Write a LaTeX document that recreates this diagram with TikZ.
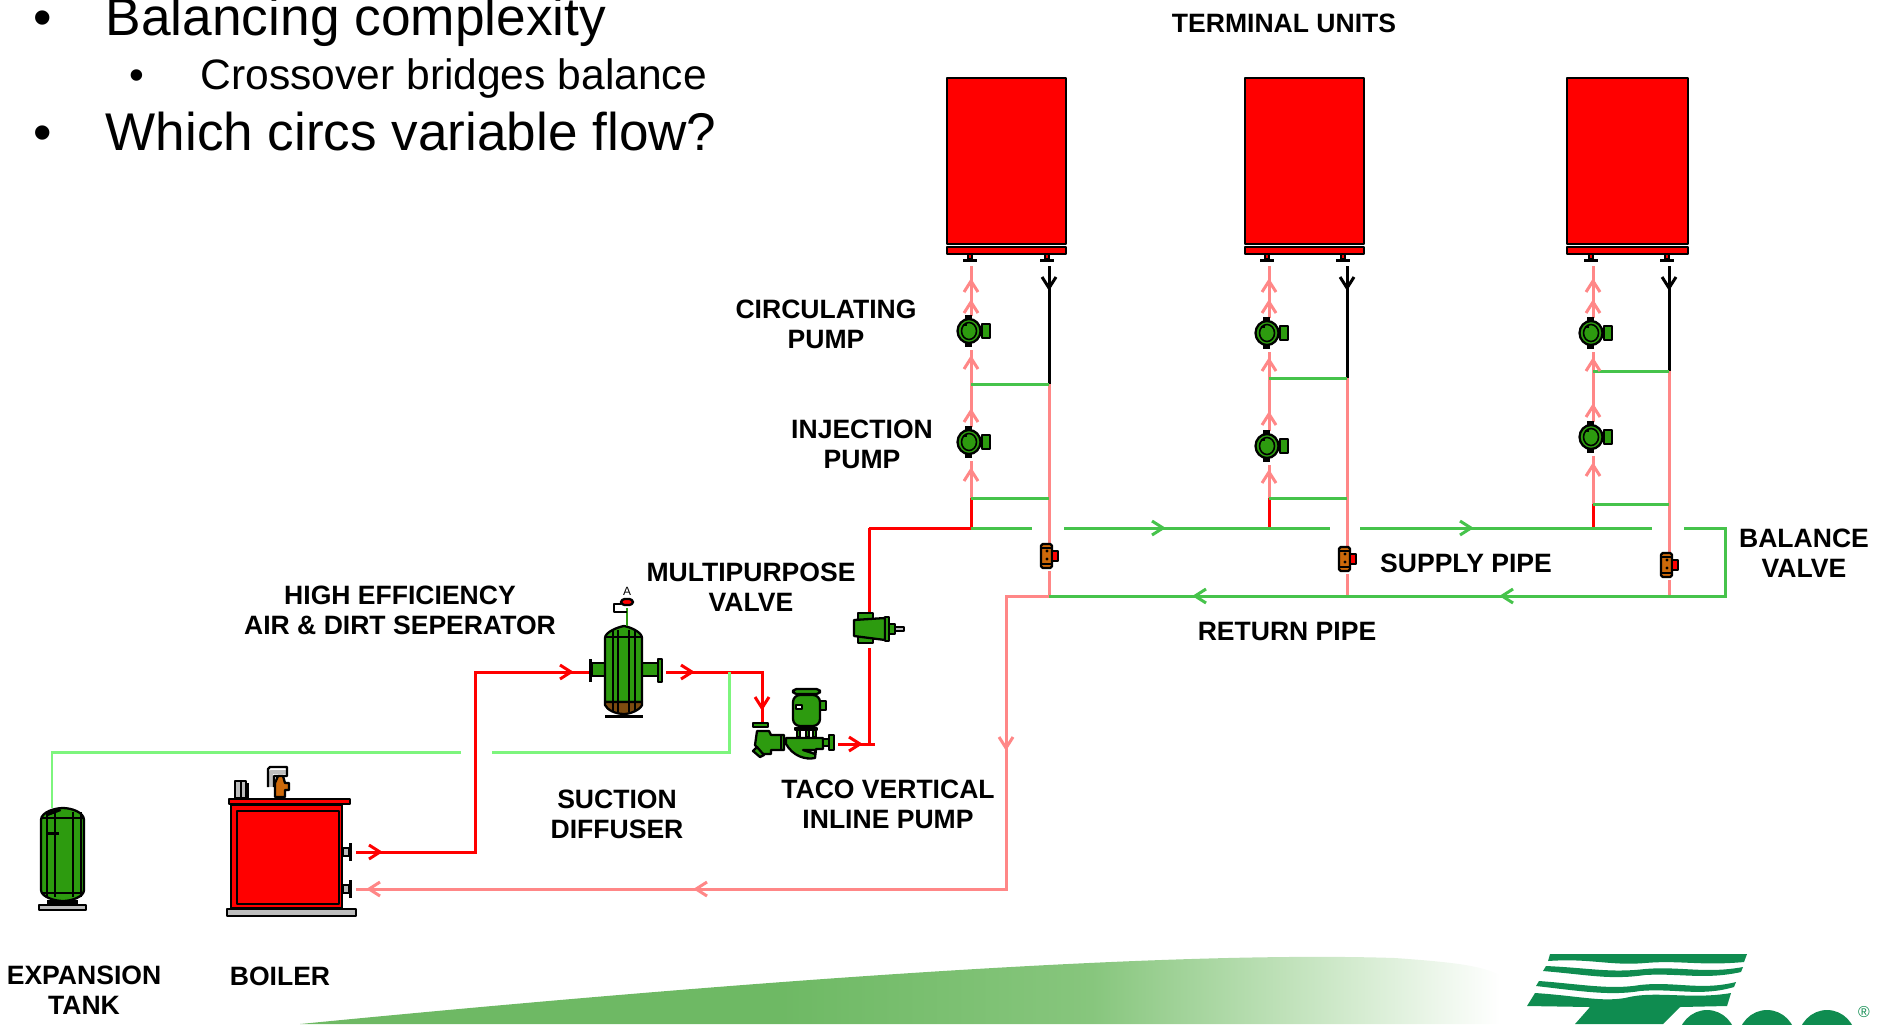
\documentclass[tikz,border=0pt]{standalone}
\usepackage{fontspec}
\setmainfont{Liberation Sans}

\definecolor{hotred}{RGB}{255,0,0}
\definecolor{warmpink}{RGB}{255,135,135}
\definecolor{loopgreen}{RGB}{70,195,75}
\definecolor{tankline}{RGB}{125,245,125}
\definecolor{unitgreen}{RGB}{45,155,15}
\definecolor{valveorange}{RGB}{205,105,10}
\definecolor{sludge}{RGB}{125,75,15}
\definecolor{metal}{RGB}{190,190,190}
\definecolor{logogreen}{RGB}{15,140,80}
\definecolor{swooshdeep}{RGB}{110,185,100}
\definecolor{swooshmid}{RGB}{135,198,125}
\definecolor{swooshpale}{RGB}{205,232,200}

\pgfdeclarehorizontalshading{swooshfade}{100bp}{
  color(0bp)=(swooshdeep);
  color(45bp)=(swooshdeep);
  color(58bp)=(swooshmid);
  color(68bp)=(swooshpale);
  color(75bp)=(white);
  color(100bp)=(white)}

\tikzset{
  hotpipe/.style={draw=hotred,line width=0.85pt},
  warmpipe/.style={draw=warmpink,line width=0.85pt},
  looppipe/.style={draw=loopgreen,line width=0.85pt},
  tankpipe/.style={draw=tankline,line width=0.85pt},
  blackpipe/.style={draw=black,line width=0.85pt},
  part/.style={draw=black,line width=0.65pt,line join=round},
  caption/.style={font=\bfseries\fontsize{7.55}{8.6}\selectfont,align=center,inner sep=0pt},
  flowtip/.pic={\draw[line join=miter] (-11,-7) -- (0,0) -- (-11,7);},
  circpump/.pic={
    \fill[black] (-4,-16) rectangle (3,-10);
    \fill[black] (-4,10) rectangle (3,16);
    \filldraw[part,fill=unitgreen] (0,0) circle (11.5 and 12);
    \draw[line width=0.45pt] (0,0) circle (7.5 and 8.5);
    \draw[line width=0.45pt] (-6,-6) -- (-2,-6);
    \filldraw[part,fill=unitgreen] (13,-7) rectangle (21,7);
  },
  balvalve/.pic={
    \filldraw[part,fill=valveorange,rounded corners=0.5pt] (-6,-12) rectangle (5,12);
    \draw[part] (-6,-8) -- (5,-8) (-6,8) -- (5,8);
    \fill[black] (0,-5) circle (1.6) (0,3) circle (1.6);
    \filldraw[part,fill=hotred] (5,-5) rectangle (11,5);
  }
}

\begin{document}
\begin{tikzpicture}[x=0.01cm,y=-0.01cm]

  \useasboundingbox (0,0) rectangle (1883,1024);

  % swoosh along the bottom
  \shade[shading=swooshfade] (300,1024) .. controls (700,985) and (1150,950) .. (1395,958)
      .. controls (1450,962) and (1480,965) .. (1500,975) -- (1500,1024) -- cycle;

  % logo
  \begin{scope}
    \clip (1500,940) rectangle (1883,1024);
    \fill[logogreen] (1550,954) -- (1747,954) -- (1744,962) .. controls (1700,966) and (1680,960) .. (1645,963)
        .. controls (1610,966) and (1590,958) .. (1548,961) -- cycle;
    \fill[logogreen] (1546,966) .. controls (1590,968) and (1610,973) .. (1645,969)
        .. controls (1680,966) and (1705,974) .. (1743,967) -- (1741,972)
        .. controls (1705,980) and (1680,973) .. (1645,975)
        .. controls (1610,980) and (1590,975) .. (1543,971) -- cycle;
    \fill[logogreen] (1539,981) .. controls (1580,984) and (1610,990) .. (1640,985)
        .. controls (1675,981) and (1700,991) .. (1736,982) -- (1734,987)
        .. controls (1700,997) and (1675,988) .. (1640,991)
        .. controls (1610,996) and (1580,991) .. (1536,986) -- cycle;
    \fill[logogreen] (1535,993) .. controls (1580,996) and (1600,1002) .. (1625,998)
        .. controls (1655,990) and (1690,1000) .. (1731,993) -- (1727,1006) -- (1680,1007)
        -- (1663,1024) -- (1575,1024) -- (1590,1007) -- (1527,1006) -- cycle;
    \foreach \lx in {1707,1767,1827}
    {
      \fill[logogreen] (\lx,1040) circle (29 and 30);
      \fill[white] (\lx,1042) circle (14 and 17);
    }
  \end{scope}
  \node[inner sep=0pt] (regmark) at (1864,1012) {\fontsize{4.5}{5}\selectfont\textcolor{logogreen}{®}};

  % slide text
  \node[anchor=base] (dotone) at (43,35) {\fontsize{15}{18}\selectfont •};
  \node[anchor=base west,inner sep=0pt] (lineone) at (105,35) {\fontsize{15.15}{18}\selectfont Balancing complexity};
  \node[anchor=base] (dottwo) at (137,89) {\fontsize{12}{14}\selectfont •};
  \node[anchor=base west,inner sep=0pt] (linetwo) at (200,89) {\fontsize{12.1}{14}\selectfont Crossover bridges balance};
  \node[anchor=base] (dotthree) at (43,150) {\fontsize{15}{18}\selectfont •};
  \node[anchor=base west,inner sep=0pt] (linethree) at (105,150) {\fontsize{15.1}{18}\selectfont Which circs variable flow?};

  % terminal units and risers
  \foreach \name/\ux/\uw/\xh/\xc/\fa/\fb/\pa/\pb/\ga/\gb/\vy/\ta/\tb/\tc in
      {one/947/119/971/1049/970/1047/331/442/384/498/556/358/411/470,
       two/1245/119/1269/1347/1267/1343/333/446/378/498/559/360/414/472,
       three/1567/121/1593/1669/1591/1667/333/437/371/504/565/360/406/465}
  {
    \filldraw[part,fill=hotred] (\ux,78) rectangle (\ux+\uw,244);
    \filldraw[part,fill=hotred] (\ux,247) rectangle (\ux+\uw,254);
    \foreach \fx in {\fa,\fb}
    {
      \filldraw[part,fill=hotred] (\fx-2,254) rectangle (\fx+2,259);
      \fill[black] (\fx-7,259) rectangle (\fx+7,262);
    }
    \coordinate (\name hottop) at (\xh,266);
    \coordinate (\name hotpa) at (\xh,\pa-15);
    \coordinate (\name hotpb) at (\xh,\pa+19);
    \coordinate (\name hotqa) at (\xh,\pb-15);
    \coordinate (\name hotqb) at (\xh,\pb+19);
    \coordinate (\name hotga) at (\xh,\ga);
    \coordinate (\name hotgb) at (\xh,\gb);
    \coordinate (\name hotmain) at (\xh,528);
    \coordinate (\name coldtop) at (\xc,266);
    \coordinate (\name coldga) at (\xc,\ga);
    \coordinate (\name coldgb) at (\xc,\gb);
    \coordinate (\name coldva) at (\xc,\vy-12);
    \coordinate (\name coldvb) at (\xc,\vy+15);
    \coordinate (\name coldmain) at (\xc,596);

    \draw[warmpipe] (\name hottop) -- (\name hotpa);
    \draw[warmpipe] (\name hotpb) -- (\name hotqa);
    \draw[warmpipe] (\name hotqb) -- (\name hotgb);
    \draw[hotpipe] (\name hotgb) -- (\name hotmain);
    \draw[blackpipe] (\name coldtop) -- (\name coldga);
    \draw[warmpipe] (\name coldga) -- (\name coldva);
    \draw[warmpipe] (\name coldvb) -- (\name coldmain);
    \draw[looppipe] (\name hotga) -- (\name coldga);
    \draw[looppipe] (\name hotgb) -- (\name coldgb);

    \pic at (\xh-2,\pa) {circpump};
    \pic at (\xh-2,\pb) {circpump};
    \pic at (\xc-2,\vy) {balvalve};

    \pic[warmpipe,rotate=90] at (\xh,281) {flowtip};
    \pic[warmpipe,rotate=90] at (\xh,302) {flowtip};
    \pic[warmpipe,rotate=90] at (\xh,\ta) {flowtip};
    \pic[warmpipe,rotate=90] at (\xh,\tb) {flowtip};
    \pic[warmpipe,rotate=90] at (\xh,\tc) {flowtip};
    \pic[blackpipe,rotate=-90] at (\xc,288) {flowtip};
  }

  % supply and return mains
  \coordinate (injdrop) at (869,528);
  \coordinate (supplyend) at (1725,528);
  \coordinate (returnend) at (1725,596);
  \coordinate (returncorner) at (1006,596);
  \coordinate (boilerreturncorner) at (1006,889);
  \coordinate (boilerreturn) at (356,889);

  \draw[hotpipe] (injdrop) -- (onehotmain);
  \draw[looppipe] (onehotmain) -- (1032,528);
  \draw[looppipe] (1064,528) -- (twohotmain) -- (1330,528);
  \draw[looppipe] (1360,528) -- (threehotmain) -- (1652,528);
  \draw[looppipe] (1684,528) -- (supplyend) -- (returnend) -- (onecoldmain);
  \draw[warmpipe] (onecoldmain) -- (returncorner) -- (boilerreturncorner) -- (boilerreturn);

  \foreach \tx in {1163,1471}
    \pic[looppipe] at (\tx,528) {flowtip};
  \foreach \tx in {1195,1502}
    \pic[looppipe,rotate=180] at (\tx,596) {flowtip};
  \pic[warmpipe,rotate=-90] at (1006,748) {flowtip};
  \pic[warmpipe,rotate=180] at (696,889) {flowtip};
  \pic[warmpipe,rotate=180] at (369,889) {flowtip};

  % boiler loop
  \coordinate (boilerout) at (356,852);
  \coordinate (boilercorner) at (475,852);
  \coordinate (sepcorner) at (475,672);
  \coordinate (sepin) at (590,672);
  \coordinate (sepout) at (666,672);
  \coordinate (tanktee) at (729,672);
  \coordinate (suctioncorner) at (762,672);
  \coordinate (suctionin) at (762,723);
  \coordinate (pumpout) at (838,744);
  \coordinate (dischargetee) at (869,744);
  \coordinate (dischargeend) at (875,744);
  \coordinate (mpvin) at (869,648);
  \coordinate (mpvout) at (869,613);
  \coordinate (tankcorner) at (729,752);
  \coordinate (tankgapa) at (492,752);
  \coordinate (tankgapb) at (461,752);
  \coordinate (tankbend) at (52,752);
  \coordinate (tanktop) at (52,808);

  \draw[hotpipe] (boilerout) -- (boilercorner) -- (sepcorner) -- (sepin);
  \draw[hotpipe] (sepout) -- (suctioncorner) -- (suctionin);
  \draw[hotpipe] (pumpout) -- (dischargeend);
  \draw[hotpipe] (dischargetee) -- (mpvin);
  \draw[hotpipe] (mpvout) -- (injdrop);
  \draw[tankpipe] (tanktee) -- (tankcorner) -- (tankgapa);
  \draw[tankpipe] (tankgapb) -- (tankbend) -- (tanktop);

  \pic[hotpipe] at (380,852) {flowtip};
  \pic[hotpipe] at (571,672) {flowtip};
  \pic[hotpipe] at (692,672) {flowtip};
  \pic[hotpipe] at (860,744) {flowtip};
  \pic[hotpipe,rotate=-90] at (762,708) {flowtip};

  % expansion tank
  \filldraw[part,fill=metal] (39,905) rectangle (86,910);
  \fill[black] (47,900) rectangle (78,905);
  \filldraw[part,fill=unitgreen] (41,820) .. controls (41,812) and (55,808) .. (63,808)
      .. controls (71,808) and (84,812) .. (84,820) -- (84,890) .. controls (84,897) and (71,901) .. (63,901)
      .. controls (55,901) and (41,897) .. (41,890) -- cycle;
  \draw[part] (41,818) -- (84,818) (41,893) -- (84,893);
  \foreach \bx in {47,55,73,81}
  {
    \draw[part] (\bx,812) -- (\bx,897);
  }
  \fill[black] (46,813) -- (60,808) -- (61,811) -- (48,816) -- cycle;
  \fill[black] (47,832) rectangle (59,835);

  % boiler
  \filldraw[part,fill=metal] (227,909) rectangle (356,916);
  \filldraw[part,fill=hotred] (231,805) rectangle (342,908);
  \draw[part] (237,811) rectangle (339,904);
  \filldraw[part,fill=hotred] (229,799) rectangle (350,804);
  \foreach \ny in {852,889}
  {
    \filldraw[part,fill=metal] (343,\ny-4) rectangle (349,\ny+4);
    \fill[black] (349,\ny-9) rectangle (352,\ny+9);
  }
  \filldraw[part,fill=metal] (235,781) rectangle (241,798);
  \filldraw[part,fill=metal] (241,781) rectangle (246,798);
  \draw[part] (248,783) -- (248,798);
  \draw[part,metal,line width=1.2pt] (271,787) -- (271,772) -- (286,772);
  \draw[part] (268,787) -- (268,769) -- (270,767) -- (287,767) -- (287,776) -- (274,776) -- (274,787);
  \filldraw[part,fill=valveorange] (275,783) -- (278,776) -- (283,776) -- (285,783) -- (289,783) -- (289,790) -- (285,790) -- (285,797) -- (275,797) -- cycle;

  % air and dirt separator
  \filldraw[part,fill=unitgreen] (592,663) rectangle (605,676);
  \filldraw[part,fill=unitgreen] (642,663) rectangle (658,676);
  \fill[black] (589,659) rectangle (592,682);
  \filldraw[part,fill=unitgreen] (658,659) rectangle (662,682);
  \filldraw[part,fill=unitgreen] (605,638) .. controls (605,632) and (618,627) .. (624,626)
      .. controls (630,627) and (642,632) .. (642,638) -- (642,702) -- (605,702) -- cycle;
  \filldraw[part,fill=sludge] (605,702) -- (642,702) -- (642,705) .. controls (640,710) and (630,714) .. (624,714)
      .. controls (616,714) and (607,710) .. (605,705) -- cycle;
  \foreach \bx in {613,618,629,635}
  {
    \draw[part] (\bx,630) -- (\bx,712);
  }
  \draw[part] (605,637) -- (642,637);
  \fill[black] (605,715) rectangle (643,718);
  \draw[line width=0.7pt,unitgreen] (627,608) -- (627,626);
  \draw[part,fill=white] (621,604) -- (614,604) -- (614,612) -- (627,612);
  \filldraw[part,fill=hotred,rounded corners=1pt] (621,599) rectangle (633,605);
  \node (ventmark) at (627,591) {\fontsize{3.4}{4}\selectfont A};

  % suction diffuser
  \filldraw[part,fill=unitgreen] (753,723) rectangle (768,727);
  \filldraw[part,fill=unitgreen] (757,731) -- (769,731) -- (771,735) -- (784,735) -- (784,750) -- (771,750)
      -- (771,754) -- (762,754) -- (755,745) -- cycle;
  \filldraw[part,fill=unitgreen] (753,751) -- (757,747) -- (764,755) -- (760,757) -- cycle;
  \draw[part] (781,735) -- (781,750);

  % inline pump
  \filldraw[part,fill=unitgreen,rounded corners=1pt] (793,689) rectangle (820,694);
  \filldraw[part,fill=unitgreen] (820,701) rectangle (826,710);
  \filldraw[part,fill=unitgreen,rounded corners=2pt] (793,695) rectangle (820,726);
  \filldraw[part,fill=white] (796,705) rectangle (802,709);
  \filldraw[part,fill=unitgreen] (795,728) rectangle (817,730);
  \foreach \sx in {797,806,813}
  {
    \filldraw[part,fill=unitgreen] (\sx,730) rectangle (\sx+3,737);
  }
  \filldraw[part,fill=unitgreen] (786,738) -- (823,738) -- (823,749) -- (816,749) -- (815,758) .. controls (805,760) and (793,756) .. (786,744) -- cycle;
  \filldraw[part,fill=white] (803,750) -- (815,750) -- (815,754) -- cycle;
  \filldraw[part,fill=unitgreen] (823,739) rectangle (829,746);
  \filldraw[part,fill=unitgreen] (829,735) rectangle (834,750);

  % multipurpose valve
  \filldraw[part,fill=unitgreen] (858,613) rectangle (873,643);
  \filldraw[part,fill=unitgreen] (854,620) -- (885,618) -- (885,640) -- (854,636) -- cycle;
  \filldraw[part,fill=unitgreen] (885,617) rectangle (889,641);
  \filldraw[part,fill=unitgreen] (889,624) rectangle (895,634);
  \filldraw[part,fill=metal] (895,627) rectangle (904,631);

  % labels
  \node[caption] (terminalunits) at (1284,23) {TERMINAL UNITS};
  \node[caption] (circulating) at (826,324) {CIRCULATING\\PUMP};
  \node[caption] (injection) at (862,444) {INJECTION\\PUMP};
  \node[caption] (multipurpose) at (751,587) {MULTIPURPOSE\\VALVE};
  \node[caption] (separator) at (400,610) {HIGH EFFICIENCY\\AIR \& DIRT SEPERATOR};
  \node[caption] (suction) at (617,814) {SUCTION\\DIFFUSER};
  \node[caption] (inline) at (888,804) {TACO VERTICAL\\INLINE PUMP};
  \node[caption] (boiler) at (280,976) {BOILER};
  \node[caption] (expansion) at (84,990) {EXPANSION\\TANK};
  \node[caption] (supplypipe) at (1466,563) {SUPPLY PIPE};
  \node[caption] (returnpipe) at (1287,631) {RETURN PIPE};
  \node[caption] (balance) at (1804,553) {BALANCE\\VALVE};

\end{tikzpicture}
\end{document}
